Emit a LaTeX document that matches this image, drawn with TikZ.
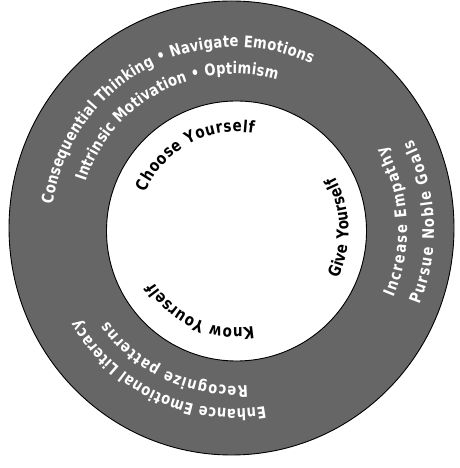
\documentclass[tikz,border=0pt]{standalone}
\usepackage{fontspec}
\usetikzlibrary{decorations.text}
\newfontfamily\ringfamily{DejaVu Sans}[FakeStretch=0.82]
\newcommand\ringtxt{\ringfamily\bfseries\fontsize{16}{18}\selectfont}
\newcommand\innertxt{\ringfamily\bfseries\fontsize{16.5}{18}\selectfont}
\tikzset{
  ringfill/.style={fill=black!60, draw=black, line width=0.9pt, even odd rule},
  arctext/.style={decorate, decoration={text along path, text align=fit to path, text color=#1}},
}
\begin{document}
\begin{tikzpicture}[x=1pt,y=1pt]
\useasboundingbox (0,0) rectangle (459,468);
\fill[white] (0,0) rectangle (459,468);
\coordinate (O) at (231.5,240);
\coordinate (I) at (236.5,237);
\coordinate (T) at (234,238);
% ring
\path[ringfill] (O) ellipse [x radius=222.5, y radius=227] (I) circle [radius=130];
% outer ring texts
\ringtxt
\path[arctext=white, decoration={text={Consequential Thinking • Navigate Emotions}}]
  (T) ++(172:183) arc[start angle=172, end angle=65, radius=183];
\path[arctext=white, decoration={text={Intrinsic Motivation • Optimism}}]
  (T) ++(162:156) arc[start angle=162, end angle=74, radius=156];
\path[arctext=white, decoration={text={Increase Empathy}}]
  (T) ++(-23:173) arc[start angle=-23, end angle=29, radius=173];
\path[arctext=white, decoration={text={Pursue Noble Goals}}]
  (T) ++(-22:200) arc[start angle=-22, end angle=27, radius=200];
\path[arctext=white, decoration={text={Recognize patterns}}]
  (T) ++(275:156) arc[start angle=275, end angle=216, radius=156];
\path[arctext=white, decoration={text={Enhance Emotional Literacy}}]
  (T) ++(280:179) arc[start angle=280, end angle=210, radius=179];
% inner texts
\innertxt
\path[arctext=black, decoration={text={Choose Yourself}}]
  (I) ++(157:99) arc[start angle=157, end angle=80, radius=99];
\path[arctext=black, decoration={text={Give Yourself}}]
  (I) ++(-25:112) arc[start angle=-25, end angle=29, radius=112];
\path[arctext=black, decoration={text={Know Yourself}}]
  (I) ++(280:97) arc[start angle=280, end angle=212, radius=97];
\end{tikzpicture}
\end{document}
